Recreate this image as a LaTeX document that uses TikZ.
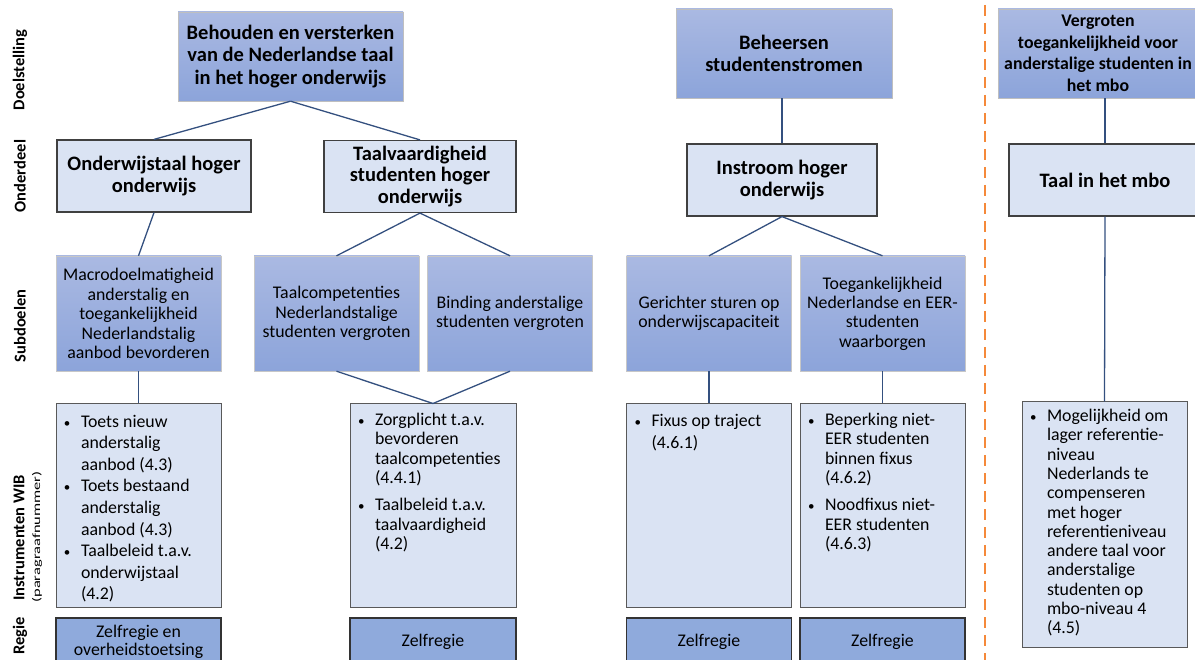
\documentclass[tikz,border=0pt]{standalone}
\usepackage{fontspec}
\setmainfont{Carlito}
\usetikzlibrary{positioning}

\definecolor{gradtop}{HTML}{AAB9E2}
\definecolor{gradbot}{HTML}{8CA4DA}
\definecolor{paleblue}{HTML}{DAE3F3}
\definecolor{regieblue}{HTML}{8FAADC}
\definecolor{linkblue}{HTML}{34507F}
\definecolor{sepline}{HTML}{F5893A}

% bullet line with hanging indent
\newcommand{\bul}[1]{\par\noindent\hangindent=25pt\hangafter=1\hspace*{8pt}\makebox[17pt][l]{\fontsize{13}{13}\selectfont\textbullet}\strut#1}
% instrument box content, top aligned
\newcommand{\instr}[3]{\parbox[c][#2][t]{#1}{\vspace*{8pt}\fontsize{17.8}{19.3}\selectfont\rightskip=0pt plus 1fil\relax #3}}

\begin{document}
\begin{tikzpicture}[x=1pt,y=-1pt]
			% Define styles
			\tikzset{
				doel/.style={draw=black!25, top color=gradtop, bottom color=gradbot, align=center, inner sep=0pt, minimum height=89pt, font=\bfseries\fontsize{20.5}{22.5}\selectfont},
				onder/.style={draw=black!75, line width=1.2pt, fill=paleblue, align=center, inner sep=0pt, minimum height=72pt, font=\bfseries\fontsize{20.5}{21.5}\selectfont},
				subdoel/.style={draw=black!22, top color=gradtop, bottom color=gradbot, align=center, inner sep=0pt, minimum width=165pt, minimum height=115pt, font=\fontsize{17.8}{19.4}\selectfont},
				instrbox/.style={draw=black!65, line width=1pt, fill=paleblue, inner sep=0pt},
				regie/.style={draw=black!80, line width=1.2pt, fill=regieblue, align=center, inner sep=0pt, minimum width=165pt, minimum height=48pt, font=\fontsize{17.8}{18.5}\selectfont},
				link/.style={draw=linkblue, line width=1.3pt},
				rowlabel/.style={rotate=90, inner sep=0pt, font=\bfseries\fontsize{16.5}{18}\selectfont}
			}
			\useasboundingbox (0,0) rectangle (1195,660);
			
			% Row labels
			\node[rowlabel] (lab-doel) at (20,70) {Doelstelling};
			\node[rowlabel] (lab-onder) at (20,176) {Onderdeel};
			\node[rowlabel] (lab-sub) at (20,326) {Subdoelen};
			\node[rowlabel] (lab-instr) at (19,538) {Instrumenten WIB};
			\node[rotate=90, inner sep=0pt] (lab-par) at (37,537) {\resizebox*{131pt}{10pt}{(paragraafnummer)}};
			\node[rowlabel] (lab-regie) at (20,636) {Regie};
			
			% Doelstellingen
			\node[doel, minimum width=225pt] (doel1) at (290.5,56.5) {Behouden en versterken\\van de Nederlandse taal\\in het hoger onderwijs};
			\node[doel, minimum width=216pt] (doel2) at (784,53.5) {Beheersen\\studentenstromen};
			\node[doel, minimum width=200pt, font=\bfseries\fontsize{17.8}{21.5}\selectfont] (doel3) at (1098,53.5) {Vergroten\\toegankelijkheid voor\\anderstalige studenten in\\het mbo};
			
			% Onderdelen
			\node[onder, minimum width=194pt] (ond1) at (154,176) {Onderwijstaal hoger\\onderwijs};
			\node[onder, minimum width=192pt] (ond2) at (420,176.5) {Taalvaardigheid\\studenten hoger\\onderwijs};
			\node[onder, minimum width=190pt] (ond3) at (782,180) {Instroom hoger\\onderwijs};
			\node[onder, minimum width=192pt] (ond4) at (1105,180) {Taal in het mbo};
			
			% Subdoelen
			\node[subdoel] (sub1) at (138.5,313.5) {Macrodoelmatigheid\\anderstalig en\\toegankelijkheid\\Nederlandstalig\\aanbod bevorderen};
			\node[subdoel] (sub2) at (336.5,313.5) {Taalcompetenties\\Nederlandstalige\\studenten vergroten};
			\node[subdoel] (sub3) at (510,313.5) {Binding anderstalige\\studenten vergroten};
			\node[subdoel] (sub4) at (709,313.5) {Gerichter sturen op\\onderwijscapaciteit};
			\node[subdoel] (sub5) at (882.5,313.5) {Toegankelijkheid\\Nederlandse en EER-\\studenten\\waarborgen};
			
			% Instrumenten WIB
			\node[instrbox] (ins1) at (138.5,505.5) {\instr{165pt}{203pt}{\fontsize{17.8}{21.6}\selectfont
				\bul{Toets nieuw\newline anderstalig\newline aanbod (4.3)}
				\bul{Toets bestaand\newline anderstalig\newline aanbod (4.3)}
				\bul{Taalbeleid t.a.v.\newline onderwijstaal\newline (4.2)}}};
			\node[instrbox] (ins2) at (433,505.5) {\instr{166pt}{203pt}{
				\bul{Zorgplicht t.a.v.\newline bevorderen\newline taalcompetenties\newline (4.4.1)}\par\vspace{8pt}
				\bul{Taalbeleid t.a.v.\newline taalvaardigheid\newline (4.2)}}};
			\node[instrbox] (ins3) at (709,505.5) {\instr{165pt}{203pt}{\fontsize{17.8}{21.3}\selectfont
				\bul{Fixus op traject\newline (4.6.1)}}};
			\node[instrbox] (ins4) at (882.5,505.5) {\instr{165pt}{203pt}{
				\bul{Beperking niet-\newline EER studenten\newline binnen fixus\newline (4.6.2)}\par\vspace{8pt}
				\bul{Noodfixus niet-\newline EER studenten\newline (4.6.3)}}};
			\node[instrbox] (ins5) at (1104.5,524.5) {\instr{165pt}{245pt}{\vspace*{-2pt}
				\bul{Mogelijkheid om\newline lager referentie-\newline niveau\newline Nederlands te\newline compenseren\newline met hoger\newline referentieniveau\newline andere taal voor\newline anderstalige\newline studenten op\newline mbo-niveau 4\newline (4.5)}}};
			
			% Regie
			\node[regie] (reg1) at (138.5,642) {Zelfregie en\\overheidstoetsing};
			\node[regie, minimum width=166pt] (reg2) at (433,642) {Zelfregie};
			\node[regie] (reg3) at (709,642) {Zelfregie};
			\node[regie] (reg4) at (882.5,642) {Zelfregie};
			
			% Connectors
			\draw[link] (doel1.south) -- (ond1.north);
			\draw[link] (doel1.south) -- (ond2.north);
			\draw[link] (ond1.south) -- (sub1.north);
			\draw[link] (ond2.south) -- (sub2.north);
			\draw[link] (ond2.south) -- (sub3.north);
			\draw[link] (sub1.south) -- (ins1.north);
			\draw[link] (sub2.south) -- (ins2.north);
			\draw[link] (sub3.south) -- (ins2.north);
			\draw[link] (ond3.north) -- (ond3.north |- doel2.south);
			\draw[link] (ond3.south) -- (sub4.north);
			\draw[link] (ond3.south) -- (sub5.north);
			\draw[link] (sub4.south) -- (ins3.north);
			\draw[link] (sub5.south) -- (ins4.north);
			\draw[link] (ond4.north) -- (ond4.north |- doel3.south);
			\draw[link] (ond4.south) -- (ins5.north);
			
			% Separator
			\coordinate (sep-top) at (985,5);
			\coordinate (sep-bot) at (985,662);
			\draw[sepline, line width=2.6pt, dash pattern=on 11pt off 7pt] (sep-top) -- (sep-bot);
		\end{tikzpicture}
\end{document}
